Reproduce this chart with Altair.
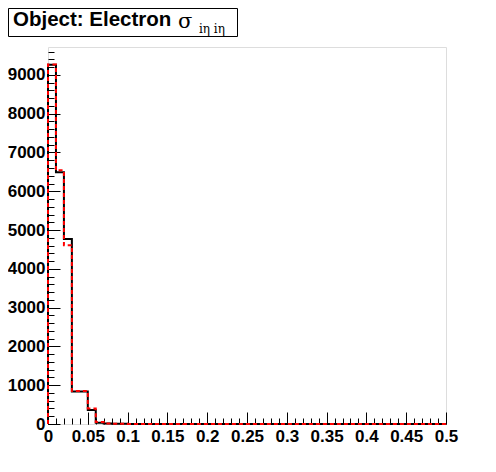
import altair as alt
import pandas as pd

# bin edges: 50 bins of width 0.01 from 0 to 0.5
bin_lo = [round(i * 0.01, 2) for i in range(50)]
black_counts = [9260, 6490, 4770, 840, 840, 360, 30, 12, 6, 4,
                3, 2, 2, 1, 1, 1, 1, 0, 0, 0,
                0, 0, 0, 0, 0, 0, 0, 0, 0, 0,
                0, 0, 0, 0, 0, 0, 0, 0, 0, 0,
                0, 0, 0, 0, 0, 0, 0, 0, 0, 0]
red_counts = [9270, 6540, 4610, 850, 850, 400, 50, 14, 7, 4,
              3, 2, 2, 1, 1, 1, 1, 0, 0, 0,
              0, 0, 0, 0, 0, 0, 0, 0, 0, 0,
              0, 0, 0, 0, 0, 0, 0, 0, 0, 0,
              0, 0, 0, 0, 0, 0, 0, 0, 0, 0]
x_major = [0, 0.05, 0.1, 0.15, 0.2, 0.25, 0.3, 0.35, 0.4, 0.45, 0.5]
x_minor = [round(i * 0.01, 2) for i in range(51)]
y_major = [0, 1000, 2000, 3000, 4000, 5000, 6000, 7000, 8000, 9000]
y_minor = [i * 200 for i in range(49)]
title_main = "Object: Electron"
title_sym = "σ"
title_sub = "iη iη"


def step_frame(counts):
    rows = [{"i": 0, "x": 0.0, "y": 0}]
    for k, (x, c) in enumerate(zip(bin_lo, counts)):
        rows.append({"i": k + 1, "x": x, "y": c})
    rows.append({"i": 51, "x": 0.5, "y": counts[-1]})
    rows.append({"i": 52, "x": 0.5, "y": 0})
    return pd.DataFrame(rows)


xs = alt.Scale(domain=[0, 0.5], nice=False, zero=False)
ys = alt.Scale(domain=[0, 9720], nice=False)

lab = dict(labelFont="Liberation Sans", labelFontWeight="bold", labelFontSize=17,
           labelColor="black", labelOverlap=False, labelFlush=False, labelBound=False,
           domain=False, grid=False, title=None, tickColor="black", tickWidth=1)

x_major_axis = alt.Axis(orient="bottom", values=x_major, tickSize=12, offset=-12,
                        labelPadding=4, format="~g", **lab)
y_major_axis = alt.Axis(orient="left", values=y_major, tickSize=12, offset=-12,
                        labelPadding=3, format="d", **lab)
x_minor_axis = alt.Axis(orient="bottom", values=x_minor, tickSize=6, offset=-6,
                        labels=False, domain=False, grid=False, title=None,
                        tickColor="black")
y_minor_axis = alt.Axis(orient="left", values=y_minor, tickSize=6, offset=-6,
                        labels=False, domain=False, grid=False, title=None,
                        tickColor="black")

black = alt.Chart(step_frame(black_counts)).mark_line(
    interpolate="step-after", color="black", strokeWidth=2, clip=False
).encode(
    x=alt.X("x:Q", scale=xs, axis=x_major_axis),
    y=alt.Y("y:Q", scale=ys, axis=y_major_axis),
    order="i:O",
)

red = alt.Chart(step_frame(red_counts)).mark_line(
    interpolate="step-after", color="#ff0000", strokeWidth=2, strokeDash=[4, 3], clip=False
).encode(
    x=alt.X("x:Q", scale=xs, axis=x_minor_axis),
    y=alt.Y("y:Q", scale=ys, axis=y_minor_axis),
    order="i:O",
)

one = pd.DataFrame({"t": [title_main]})
box = alt.Chart(one).mark_rect(fill="white", stroke="black", strokeWidth=1).encode(
    x=alt.value(-39.5), x2=alt.value(189.5), y=alt.value(-38.5), y2=alt.value(-10.5)
)
t1 = alt.Chart(pd.DataFrame({"t": [title_main]})).mark_text(
    font="Liberation Sans", fontWeight="bold", fontSize=20.5, align="left",
    baseline="alphabetic", color="black"
).encode(x=alt.value(-35), y=alt.value(-21), text="t:N")
t2 = alt.Chart(pd.DataFrame({"t": [title_sym]})).mark_text(
    font="DejaVu Serif", fontSize=21, align="left", baseline="alphabetic", color="black"
).encode(x=alt.value(130), y=alt.value(-19), text="t:N")
t3 = alt.Chart(pd.DataFrame({"t": [title_sub]})).mark_text(
    font="DejaVu Serif", fontSize=12, align="left", baseline="alphabetic", color="black"
).encode(x=alt.value(151), y=alt.value(-14), text="t:N")

chart = alt.layer(black, red, box, t1, t2, t3).resolve_axis(
    x="independent", y="independent"
).properties(
    width=398, height=377,
    autosize=alt.AutoSizeParams(type="none"),
    padding={"left": 40, "top": 39, "right": 42, "bottom": 40},
).configure_view(stroke="black", strokeWidth=1, fill="white").configure(background="white")

chart.save("out.html", embed_options={"renderer": "svg", "actions": False})
